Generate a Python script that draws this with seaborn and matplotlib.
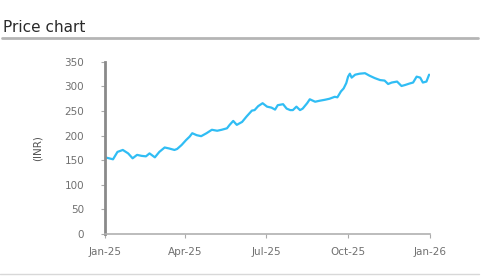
import matplotlib
matplotlib.use("Agg")
import matplotlib.pyplot as plt
from matplotlib.lines import Line2D
import pandas as pd
import seaborn as sns

dates = [
    "2025-01-01", "2025-01-10", "2025-01-15", "2025-01-21", "2025-01-27", "2025-02-01",
    "2025-02-06", "2025-02-11", "2025-02-16", "2025-02-20", "2025-02-26", "2025-03-03",
    "2025-03-09", "2025-03-14", "2025-03-20", "2025-03-23", "2025-03-28", "2025-04-02",
    "2025-04-06", "2025-04-09", "2025-04-14", "2025-04-19", "2025-04-25", "2025-05-01",
    "2025-05-07", "2025-05-12", "2025-05-18", "2025-05-21", "2025-05-25", "2025-05-29",
    "2025-06-04", "2025-06-09", "2025-06-15", "2025-06-18", "2025-06-22", "2025-06-27",
    "2025-07-02", "2025-07-07", "2025-07-11", "2025-07-14", "2025-07-20", "2025-07-24",
    "2025-07-28", "2025-07-31", "2025-08-04", "2025-08-08", "2025-08-11", "2025-08-16",
    "2025-08-19", "2025-08-25", "2025-08-30", "2025-09-05", "2025-09-10", "2025-09-16",
    "2025-09-19", "2025-09-23", "2025-09-26", "2025-09-29", "2025-10-01", "2025-10-03",
    "2025-10-05", "2025-10-09", "2025-10-14", "2025-10-20", "2025-10-25", "2025-10-31",
    "2025-11-06", "2025-11-11", "2025-11-15", "2025-11-19", "2025-11-25", "2025-11-30",
    "2025-12-04", "2025-12-09", "2025-12-13", "2025-12-17", "2025-12-21", "2025-12-24",
    "2025-12-28", "2025-12-31",
]
prices = [
    156, 152, 167, 171, 164, 154,
    161, 159, 158, 164, 156, 167,
    176, 174, 171, 173, 181, 191,
    198, 205, 201, 199, 205, 212,
    210, 212, 215, 222, 230, 222,
    228, 239, 251, 252, 260, 266,
    259, 257, 253, 262, 264, 255,
    252, 252, 259, 252, 255, 266,
    274, 269, 271, 273, 275, 279,
    278, 290, 296, 307, 320, 326,
    318, 324, 326, 327, 322, 317,
    313, 312, 305, 308, 310, 301,
    303, 306, 308, 320, 318, 308,
    310, 324,
]
x_ticks = ["2025-01-01", "2025-04-01", "2025-07-01", "2025-10-01", "2026-01-01"]
x_tick_labels = ["Jan-25", "Apr-25", "Jul-25", "Oct-25", "Jan-26"]
y_ticks = [0, 50, 100, 150, 200, 250, 300, 350]

sns.set_style("white")
plt.rcParams["font.family"] = ["DejaVu Sans"]

df = pd.DataFrame({"date": pd.to_datetime(dates), "price": prices})

fig = plt.figure(figsize=(5.0, 2.8), dpi=100)
ax = fig.add_axes([0.21, 0.164, 0.65, 0.615])

sns.lineplot(data=df, x="date", y="price", ax=ax, color="#30BDF4", linewidth=1.6)

ax.set_xlim(pd.Timestamp("2025-01-01"), pd.Timestamp("2026-01-01"))
ax.set_ylim(0, 350)
ax.set_xticks(pd.to_datetime(x_ticks))
ax.set_xticklabels(x_tick_labels)
ax.set_yticks(y_ticks)
ax.set_xlabel("")
ax.set_ylabel("(INR)", fontsize=7.5, color="#555555", labelpad=16)

for s in ["top", "right"]:
    ax.spines[s].set_visible(False)
ax.spines["left"].set_color("#8a8a8a")
ax.spines["left"].set_linewidth(2.0)
ax.spines["bottom"].set_color("#b0b0b0")
ax.spines["bottom"].set_linewidth(1.2)
ax.tick_params(axis="y", which="both", direction="out", length=3, width=0.8,
               color="#aaaaaa", labelsize=7.5, labelcolor="#707070", pad=12, left=True)
ax.tick_params(axis="x", which="both", direction="out", length=3, width=0.8,
               color="#aaaaaa", labelsize=7.5, labelcolor="#707070", pad=6, bottom=True)
ax.grid(False)

fig.text(0.006, 0.90, "Price chart", fontsize=11, color="#2a2a2a", ha="left", va="center")
fig.add_artist(Line2D([0.004, 0.956], [0.863, 0.863], transform=fig.transFigure,
                      color="#b5b5b5", linewidth=2.0))
fig.add_artist(Line2D([0.0, 0.958], [0.021, 0.021], transform=fig.transFigure,
                      color="#d8d8d8", linewidth=1.0))

fig.savefig("out.png", dpi=100)
